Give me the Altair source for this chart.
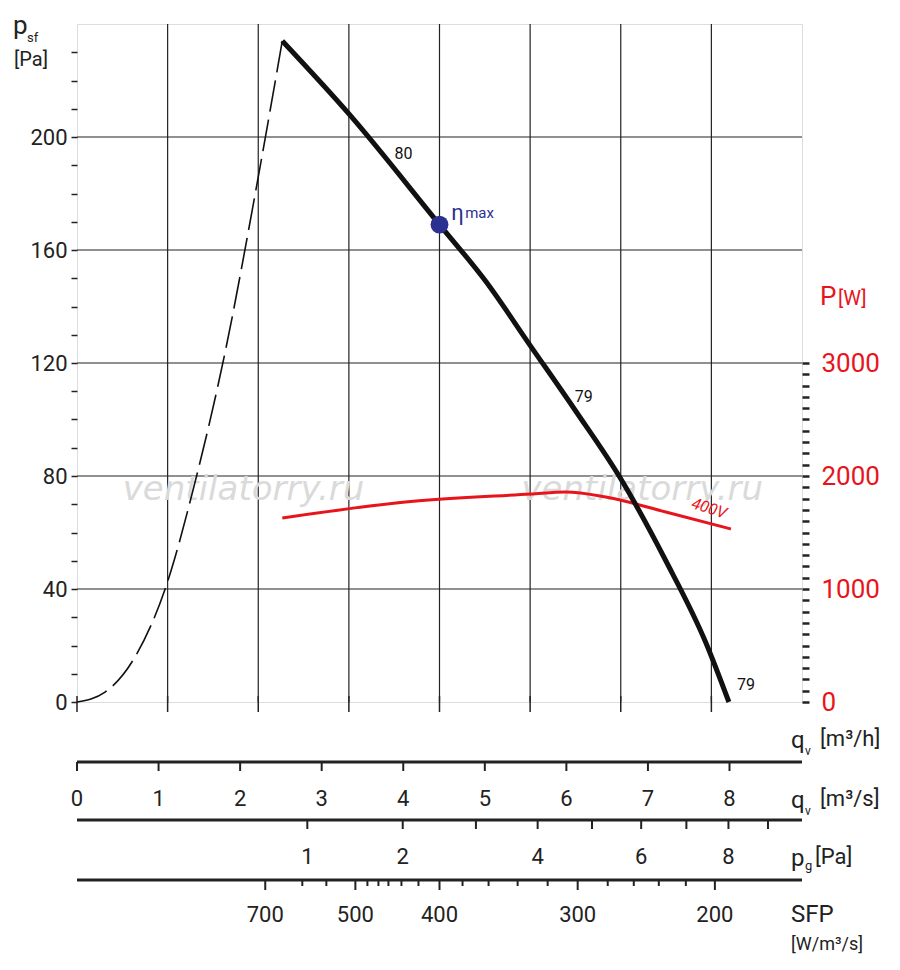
import altair as alt
import pandas as pd

FONT = "Roboto"
# main curve (m3/h, Pa)
curve_q = [9061, 12022, 16000, 18033, 20022, 22011, 24000, 25989, 27757, 28773]
curve_p = [234, 208, 169, 149, 126, 103, 79, 50, 21, 0]
# dashed (stall) part
dash_q = [0, 1238, 2564, 3890, 5216, 6542, 7868, 9061]
dash_p = [0, 3.5, 16, 40, 78, 124, 180, 234]
# power curve 400V (W)
pow_q = [9061, 14498, 20022, 21569, 23337, 25989, 28862]
pow_w = [1628, 1770, 1840, 1858, 1814, 1681, 1531]
# grid
grid_x = [4000, 8000, 12000, 16000, 20000, 24000, 28000]
grid_y = [40, 80, 120, 160, 200]
# secondary axes
qs_vals = [0, 1, 2, 3, 4, 5, 6, 7, 8]
pg_ticks = [1, 2, 3, 4, 5, 6, 7, 8, 9]
pg_labels = [1, 2, 4, 6, 8]
pg_q1 = 10166  # m3/h at pg = 1 Pa
sfp_tick_q = [9945, 11006, 12818, 13304, 13746, 14320, 15072,
              17017, 18166, 19448, 20773, 23425, 24575, 25680, 26873]
sfp_lab = ["700", "500", "400", "300", "200"]
sfp_lab_q = [8309, 12287, 16000, 22099, 28155]

XS = alt.Scale(domain=[0, 32000], nice=False, zero=False)
YS = alt.Scale(domain=[0, 240], nice=False, zero=False)
def X(f): return alt.X(f, type="quantitative", scale=XS, axis=None)
def Y(f): return alt.Y(f, type="quantitative", scale=YS, axis=None)

base_x_axis = alt.Axis(values=list(range(0, 32001, 1000)),
                       labelExpr="datum.value % 8000 == 0 && datum.value < 32000 ? datum.value : ''",
                       labelFontSize=22, labelFont=FONT, labelColor="#222", labelPadding=10,
                       tickSize=6, tickColor="#222", tickWidth=1.5, domain=False, grid=False, title=None,
                       labelFlush=False, labelOverlap=False)
left_axis = alt.Axis(values=list(range(0, 231, 10)),
                     labelExpr="datum.value % 40 == 0 ? datum.value : ''",
                     labelFontSize=22, labelFont=FONT, labelColor="#222", labelPadding=4,
                     tickSize=6, tickColor="#222", tickWidth=1.5, domain=False, grid=False, title=None,
                     labelOverlap=False)

gx = pd.DataFrame({"q": grid_x})
gy = pd.DataFrame({"p": grid_y})
vgrid = alt.Chart(gx).mark_rule(color="#222", strokeWidth=1.2).encode(x=X("q"))
hgrid = alt.Chart(gy).mark_rule(color="#222", strokeWidth=1.2).encode(y=Y("p"))

axes_holder = alt.Chart(pd.DataFrame({"q": [0, 32000], "p": [0, 240]})).mark_point(opacity=0).encode(
    x=alt.X("q:Q", scale=XS, axis=base_x_axis), y=alt.Y("p:Q", scale=YS, axis=left_axis))
major_xt = alt.Chart(pd.DataFrame({"q": [0] + grid_x})).mark_rule(color="#222", strokeWidth=1.5).encode(
    x=X("q"), y=alt.value(672), y2=alt.value(688))

# watermark
wm = alt.Chart(pd.DataFrame({"t": ["ventilatorry.ru", "ventilatorry.ru"], "q": [7350, 24950]})).mark_text(
    font="DejaVu Sans", fontSize=34, fontStyle="italic", color="#dadada", fontWeight=200).encode(
    x=X("q"), y=alt.value(466), text="t:N")

dash = alt.Chart(pd.DataFrame({"q": dash_q, "p": dash_p})).mark_line(
    color="#111", strokeWidth=1.6, strokeDash=[32, 8], interpolate="monotone").encode(x=X("q"), y=Y("p"))
main = alt.Chart(pd.DataFrame({"q": curve_q, "p": curve_p})).mark_line(
    color="#111", strokeWidth=5, interpolate="monotone").encode(x=X("q"), y=Y("p"))
power = alt.Chart(pd.DataFrame({"q": pow_q, "w": pow_w})).mark_line(
    color="#e8141c", strokeWidth=3, interpolate="monotone").encode(
    x=X("q"),
    y=alt.Y("w:Q", scale=alt.Scale(domain=[0, 6000], nice=False),
            axis=alt.Axis(orient="right", values=list(range(0, 3001, 100)),
                          labelExpr="datum.value % 1000 == 0 ? datum.value : ''",
                          labelFontSize=26, labelFont=FONT, labelColor="#e8141c", labelPadding=12,
                          tickSize=7, tickColor="#222", tickWidth=2.5, domain=False, grid=False,
                          title=None, labelOverlap=False)))
eta = alt.Chart(pd.DataFrame({"q": [16000], "p": [169]})).mark_circle(size=320, color="#2b3191", opacity=1).encode(
    x=X("q"), y=Y("p"))
eta_t = alt.Chart(pd.DataFrame({"q": [16000], "p": [169]})).mark_text(
    text="η", fontSize=22, font=FONT, color="#2b3191", dx=18, dy=-12).encode(x=X("q"), y=Y("p"))
eta_m = alt.Chart(pd.DataFrame({"q": [16000], "p": [169]})).mark_text(
    text="max", fontSize=15, font=FONT, color="#2b3191", dx=40, dy=-12).encode(x=X("q"), y=Y("p"))

eff = alt.Chart(pd.DataFrame({"q": [14409, 22365, 29526], "p": [194, 108, 6], "t": ["80", "79", "79"]})).mark_text(
    fontSize=16, font=FONT, color="#111").encode(x=X("q"), y=Y("p"), text="t:N")
v400 = alt.Chart(pd.DataFrame({"q": [27900], "p": [68.5]})).mark_text(
    text="400V", fontSize=16, font=FONT, color="#e8141c", angle=18, fontStyle="italic").encode(x=X("q"), y=Y("p"))

def txt(t, x, y, size=22, color="#222", align="left", font=FONT):
    return alt.Chart(pd.DataFrame({"a": [0]})).mark_text(
        text=t, fontSize=size, color=color, align=align, font=font, baseline="middle").encode(
        x=alt.value(x), y=alt.value(y))

titles = [
    txt("p", -64, 2, 26), txt("sf", -50, 14, 13), txt("[Pa]", -63, 36, 20),
    txt("P", 743, 273, 26, "#e8141c"), txt("[W]", 761, 275, 20, "#e8141c"),
    txt("q", 714, 717, 24), txt("v", 728, 727, 12), txt("[m³/h]", 743, 715, 22),
    txt("q", 714, 777, 24), txt("v", 728, 787, 12), txt("[m³/s]", 743, 775, 22),
    txt("p", 714, 835, 24), txt("g", 728, 842, 13), txt("[Pa]", 738, 833, 22),
    txt("SFP", 714, 891, 24), txt("[W/m³/s]", 714, 921, 18),
]

row_lines = [
    alt.Chart(pd.DataFrame({"a": [0], "b": [32000]})).mark_rule(color="#222", strokeWidth=3).encode(
        x=X("a"), x2="b:Q", y=alt.value(yv)) for yv in (738, 796, 856)
]
qs_df = pd.DataFrame({"s": qs_vals})
qs_df["q"] = qs_df["s"] * 3600
qs_ticks = alt.Chart(qs_df).mark_rule(color="#222", strokeWidth=2).encode(x=X("q"), y=alt.value(738), y2=alt.value(747))
qs_labels = alt.Chart(qs_df).mark_text(fontSize=22, font=FONT, color="#222").encode(
    x=X("q"), y=alt.value(775), text="s:Q")

pg_df = pd.DataFrame({"g": pg_ticks})
pg_df["q"] = pg_q1 * pg_df["g"] ** 0.5
pg_t = alt.Chart(pg_df).mark_rule(color="#222", strokeWidth=2).encode(x=X("q"), y=alt.value(796), y2=alt.value(805))
pgl_df = pd.DataFrame({"g": pg_labels})
pgl_df["q"] = pg_q1 * pgl_df["g"] ** 0.5
pg_l = alt.Chart(pgl_df).mark_text(fontSize=22, font=FONT, color="#222").encode(
    x=X("q"), y=alt.value(833), text="g:Q")

sfp_minor = alt.Chart(pd.DataFrame({"q": sfp_tick_q})).mark_rule(color="#222", strokeWidth=2).encode(
    x=X("q"), y=alt.value(856), y2=alt.value(862))
sfp_df = pd.DataFrame({"q": sfp_lab_q, "t": sfp_lab})
sfp_major = alt.Chart(sfp_df).mark_rule(color="#222", strokeWidth=2).encode(
    x=X("q"), y=alt.value(856), y2=alt.value(866))
sfp_l = alt.Chart(sfp_df).mark_text(fontSize=22, font=FONT, color="#222").encode(
    x=X("q"), y=alt.value(891), text="t:N")

chart = alt.layer(
    vgrid, hgrid, axes_holder, major_xt, wm, dash, power, main, eta, eta_t, eta_m, eff, v400,
    *titles, *row_lines, qs_ticks, qs_labels, pg_t, pg_l, sfp_minor, sfp_major, sfp_l
).resolve_scale(y="independent").properties(width=725, height=678).configure_view(
    stroke="#222", strokeWidth=2.5).configure(background="white")

chart.save("out.html", embed_options={"renderer": "svg", "actions": False})
